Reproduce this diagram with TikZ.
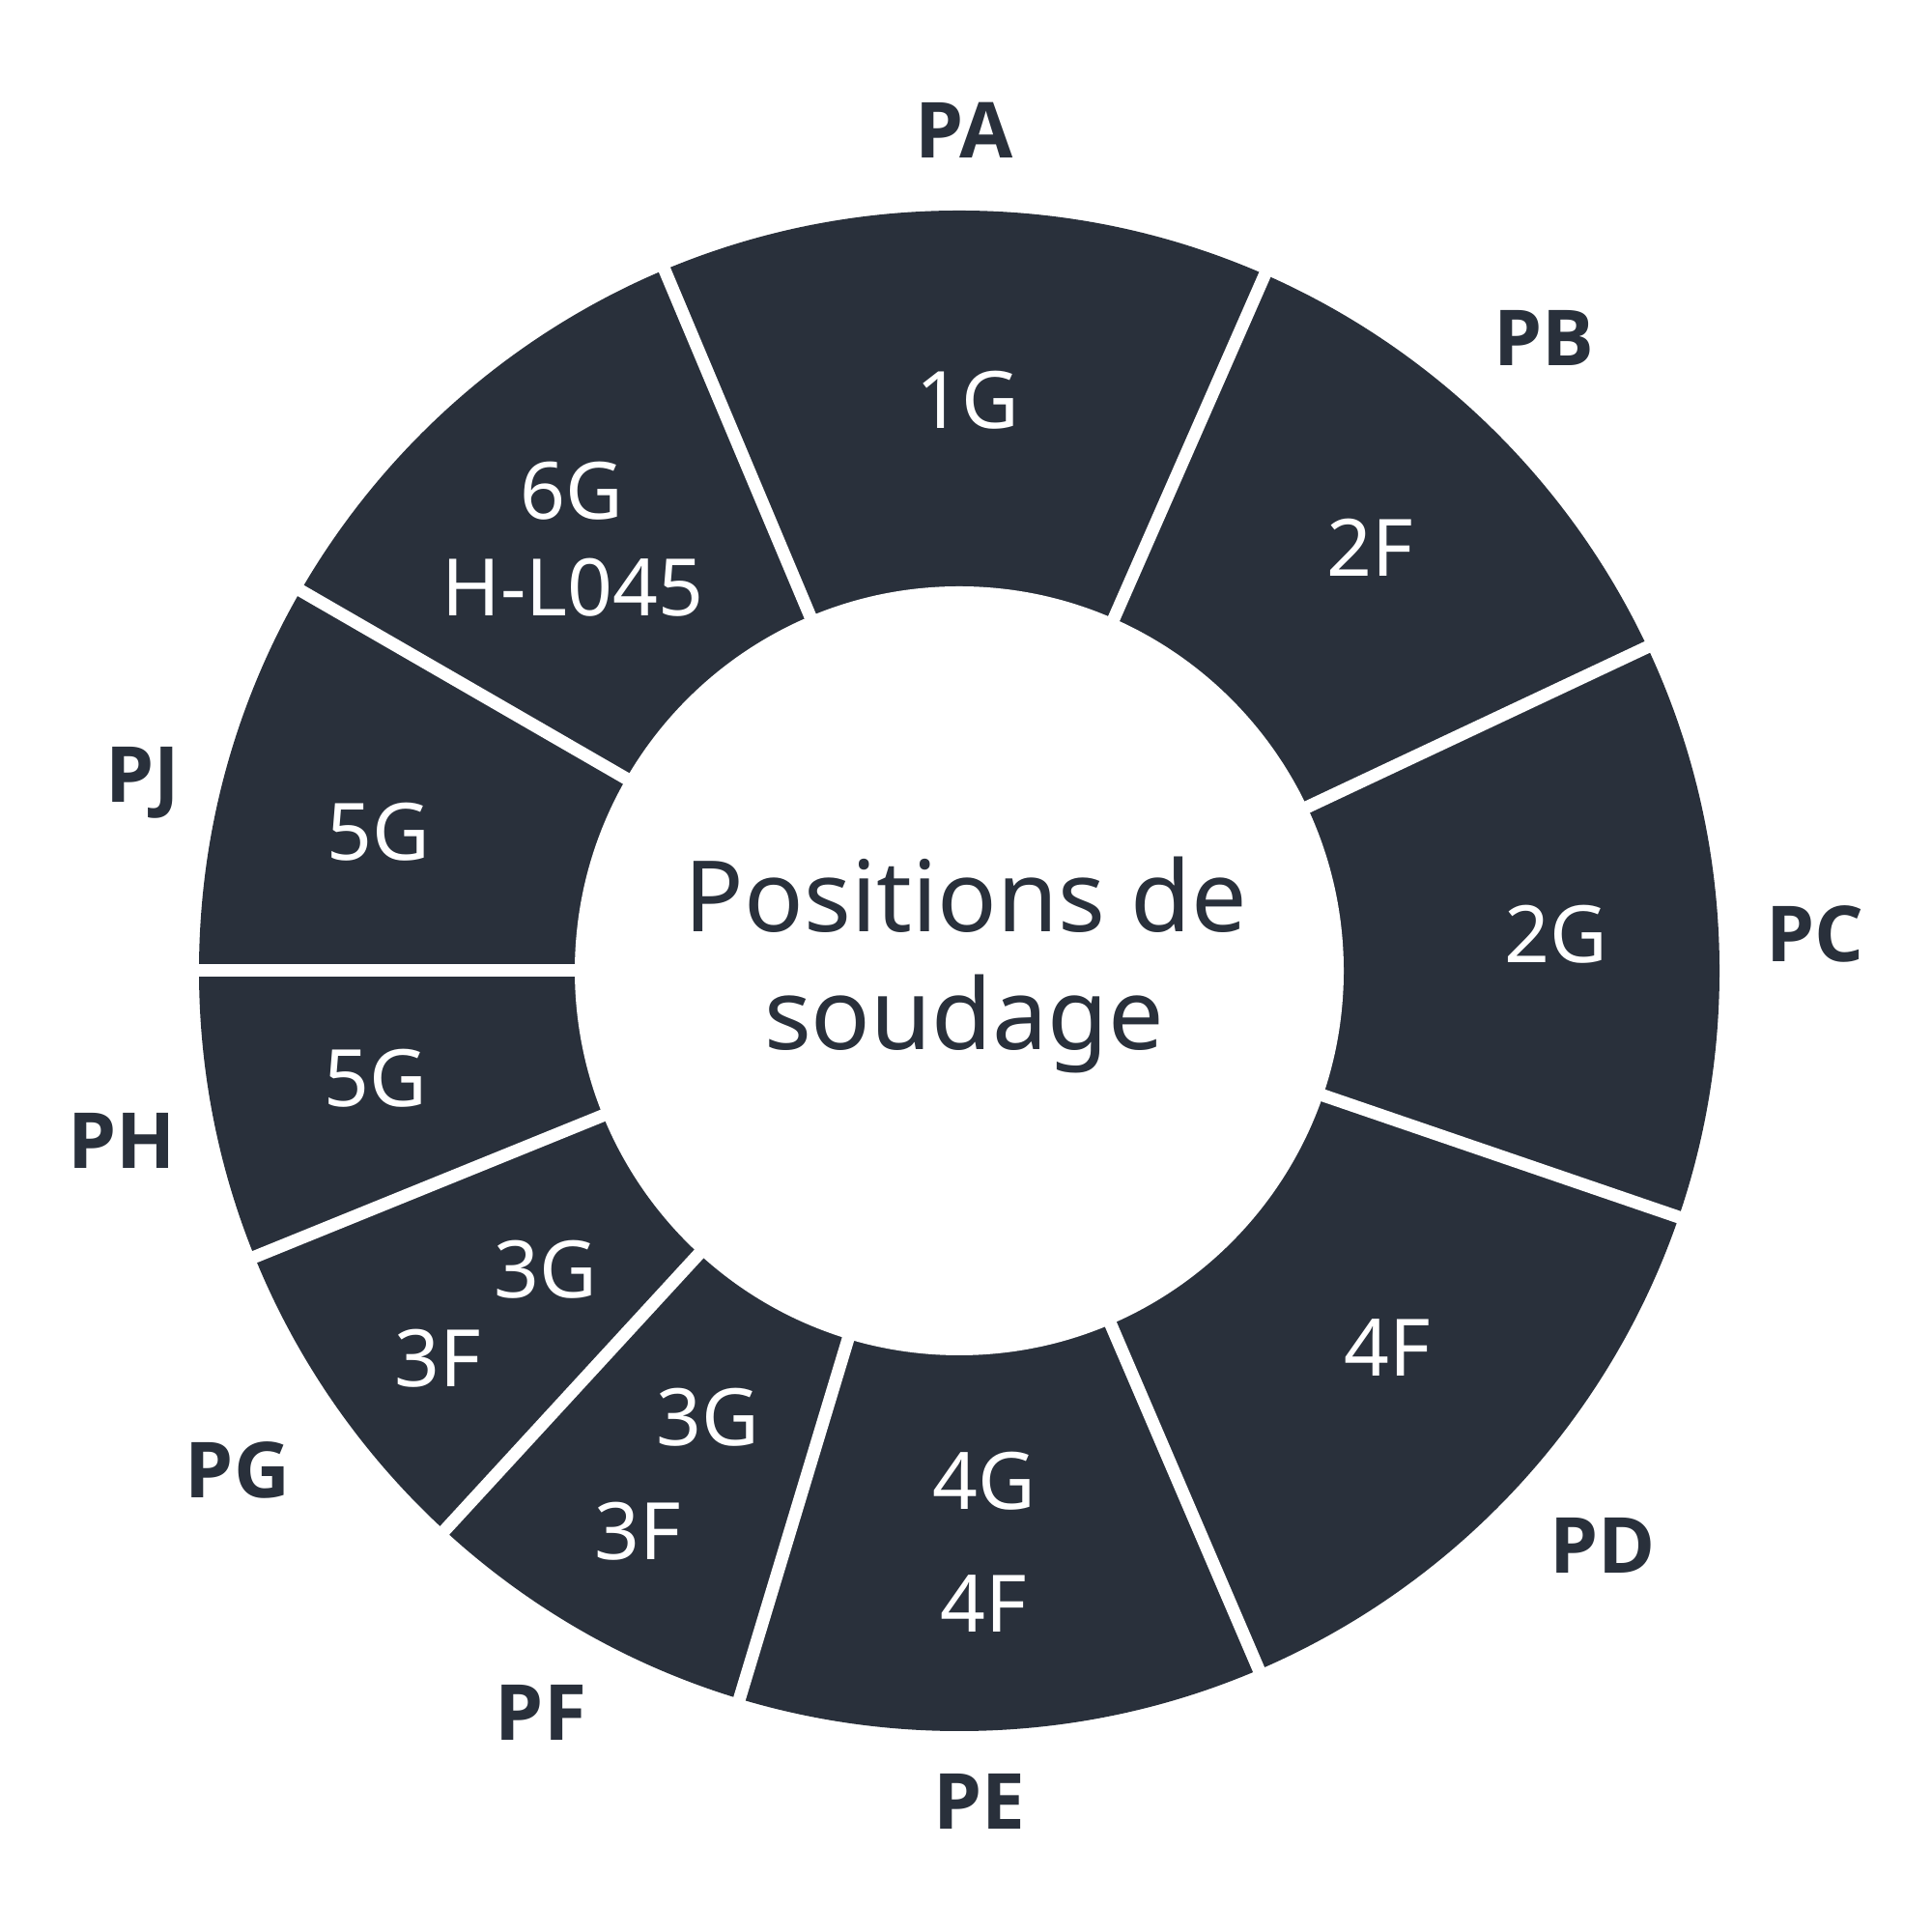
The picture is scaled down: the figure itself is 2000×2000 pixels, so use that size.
\documentclass[tikz,border=0pt]{standalone}
\usepackage{fontspec}
\setmainfont{Noto Sans}
\newfontfamily\labfont{Open Sans}
\definecolor{ink}{RGB}{41,48,59}
\begin{document}
\begin{tikzpicture}[x=0.5pt,y=0.5pt,
  seglabel/.style={text=white,font=\fontsize{41}{49}\selectfont,inner sep=0pt,anchor=base},
  poslabel/.style={text=ink,font=\labfont\fontsize{40}{48}\selectfont\bfseries,inner sep=0pt,anchor=base},
  titlelabel/.style={text=ink,font=\fontsize{51}{61}\selectfont,inner sep=0pt,anchor=base},
  gapline/.style={white,line width=6.5pt}]
\useasboundingbox (0,0) rectangle (2000,2000);
\fill[white] (0,0) rectangle (2000,2000);
\coordinate (C) at (993,995);
% ring
\fill[ink] (C) circle (787);
\fill[white] (C) circle (398);
% gaps between segments
\foreach \a in {112.8,66.3,25.2,-18.9,-66.8,-106.8,-132.6,-157.9,180,150}
  \draw[gapline] (C) -- ++(\a:820);
% segment texts
\node[seglabel] (s1g) at (1002,1556) {1G};
\node[seglabel] (s2f) at (1418,1403) {2F};
\node[seglabel] (s2g) at (1611,1003) {2G};
\node[seglabel] (s4f) at (1436,575) {4F};
\node[seglabel] (s4ga) at (1019,437) {4G};
\node[seglabel] (s4fa) at (1018,310) {4F};
\node[seglabel] (s3gf) at (733,503) {3G};
\node[seglabel] (s3ff) at (660,385.5) {3F};
\node[seglabel] (s3gg) at (565,656) {3G};
\node[seglabel] (s3fg) at (453,564) {3F};
\node[seglabel] (s5gh) at (389,854.5) {5G};
\node[seglabel] (s5gj) at (392,1109) {5G};
\node[seglabel] (s6g) at (592,1462) {6G};
\node[seglabel] (shl) at (593,1362.5) {H-L045};
% centre title
\node[titlelabel] (t1) at (1000,1035) {Positions de};
\node[titlelabel] (t2) at (998,913) {soudage};
% position labels
\node[poslabel] (pa) at (998,1836) {PA};
\node[poslabel] (pb) at (1598,1621) {PB};
\node[poslabel] (pc) at (1879,1004) {PC};
\node[poslabel] (pd) at (1659,371) {PD};
\node[poslabel] (pe) at (1014,106) {PE};
\node[poslabel] (pf) at (560,198) {PF};
\node[poslabel] (pg) at (246,449) {PG};
\node[poslabel] (ph) at (126,790) {PH};
\node[poslabel] (pj) at (148,1169) {PJ};
\end{tikzpicture}
\end{document}
